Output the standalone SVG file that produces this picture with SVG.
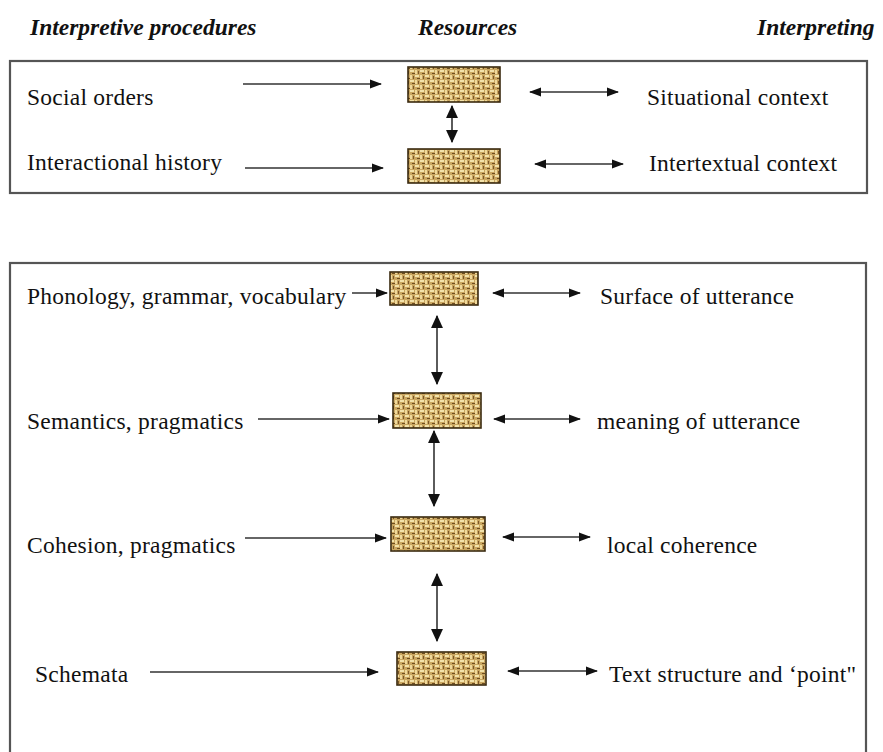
<svg xmlns="http://www.w3.org/2000/svg" width="883" height="752" viewBox="0 0 883 752">
<defs>
<style>
text{font-family:"Liberation Serif","Times New Roman",serif;font-size:23.5px;fill:#111;letter-spacing:0.25px;}
.hd{font-weight:bold;font-style:italic;font-size:23.5px;letter-spacing:0;}
.frame{fill:#fff;stroke:#555;stroke-width:2.2;}
.res{fill:url(#weave);stroke:#3a2a10;stroke-width:1.6;}
.ln{stroke:#333;stroke-width:1.6;fill:none;}
</style>
<pattern id="weave" patternUnits="userSpaceOnUse" width="10" height="10">
<rect width="10" height="10" fill="#c9a660"/>
<rect x="0" y="0" width="4" height="2" fill="#f3e2aa"/>
<rect x="5" y="0" width="2" height="4" fill="#efd99c"/>
<rect x="5" y="5" width="4" height="2" fill="#f3e2aa"/>
<rect x="0" y="5" width="2" height="4" fill="#efd99c"/>
<rect x="2" y="3" width="3" height="1" fill="#6e4c1f"/>
<rect x="8" y="1" width="1" height="3" fill="#7a5526"/>
<rect x="7" y="8" width="3" height="1" fill="#6e4c1f"/>
<rect x="3" y="6" width="1" height="3" fill="#7a5526"/>
</pattern>
<marker id="ah" viewBox="0 0 12 10" refX="11" refY="5" markerWidth="12" markerHeight="10" markerUnits="userSpaceOnUse" orient="auto-start-reverse">
<path d="M0 0.5L12 5L0 9.5z" fill="#111"/>
</marker>
<marker id="ahb" viewBox="0 0 12 12" refX="11" refY="6" markerWidth="13" markerHeight="13" markerUnits="userSpaceOnUse" orient="auto-start-reverse">
<path d="M0 0.5L12 6L0 11.5z" fill="#111"/>
</marker>
</defs>
<rect width="883" height="752" fill="#fff"/>
<g id="headers">
<text class="hd" x="30" y="35">Interpretive procedures</text>
<text class="hd" x="418" y="35">Resources</text>
<text class="hd" x="757" y="35">Interpreting</text>
</g>
<rect id="frame-top" class="frame" x="10" y="61" width="857" height="132"/>
<rect id="frame-bottom" class="frame" x="10" y="263" width="856" height="500"/>

<g id="n-social-orders"><text x="27" y="105">Social orders</text></g>
<g id="n-interactional-history"><text x="27" y="170">Interactional history</text></g>
<g id="n-res1"><rect class="res" x="408" y="67" width="92" height="35"/></g>
<g id="n-res2"><rect class="res" x="408" y="149" width="92" height="34"/></g>
<g id="n-situational"><text x="647" y="105">Situational context</text></g>
<g id="n-intertextual"><text x="649" y="171">Intertextual context</text></g>

<g id="n-phonology"><text x="27" y="304">Phonology, grammar, vocabulary</text></g>
<g id="n-semantics"><text x="27" y="429">Semantics, pragmatics</text></g>
<g id="n-cohesion"><text x="27" y="553">Cohesion, pragmatics</text></g>
<g id="n-schemata"><text x="35" y="682">Schemata</text></g>
<g id="n-res3"><rect class="res" x="390" y="272" width="88" height="33"/></g>
<g id="n-res4"><rect class="res" x="393" y="393" width="88" height="35"/></g>
<g id="n-res5"><rect class="res" x="391" y="517" width="94" height="34"/></g>
<g id="n-res6"><rect class="res" x="397" y="652" width="89" height="33"/></g>
<g id="n-surface"><text x="600" y="304">Surface of utterance</text></g>
<g id="n-meaning"><text x="597" y="429">meaning of utterance</text></g>
<g id="n-local"><text x="607" y="553">local coherence</text></g>
<g id="n-text-structure"><text x="609" y="682">Text structure and ‘point"</text></g>

<g id="connectors">
<line class="ln" x1="243" y1="84" x2="381" y2="84" marker-end="url(#ah)"/>
<line class="ln" x1="245" y1="168" x2="383" y2="168" marker-end="url(#ah)"/>
<line class="ln" x1="452" y1="106" x2="452" y2="142" stroke-width="2" marker-start="url(#ahb)" marker-end="url(#ahb)"/>
<line class="ln" x1="530" y1="92" x2="618" y2="92" marker-start="url(#ah)" marker-end="url(#ah)"/>
<line class="ln" x1="535" y1="164" x2="623" y2="164" marker-start="url(#ah)" marker-end="url(#ah)"/>

<line class="ln" x1="352" y1="293" x2="387" y2="293" marker-end="url(#ah)"/>
<line class="ln" x1="258" y1="419" x2="389" y2="419" marker-end="url(#ah)"/>
<line class="ln" x1="245" y1="538" x2="386" y2="538" marker-end="url(#ah)"/>
<line class="ln" x1="150" y1="672" x2="378" y2="672" marker-end="url(#ah)"/>

<line class="ln" x1="437" y1="316" x2="437" y2="384" marker-start="url(#ahb)" marker-end="url(#ahb)"/>
<line class="ln" x1="434" y1="431" x2="434" y2="506" marker-start="url(#ahb)" marker-end="url(#ahb)"/>
<line class="ln" x1="437" y1="574" x2="437" y2="641" marker-start="url(#ahb)" marker-end="url(#ahb)"/>

<line class="ln" x1="493" y1="293" x2="580" y2="293" marker-start="url(#ah)" marker-end="url(#ah)"/>
<line class="ln" x1="494" y1="419" x2="580" y2="419" marker-start="url(#ah)" marker-end="url(#ah)"/>
<line class="ln" x1="503" y1="537" x2="590" y2="537" marker-start="url(#ah)" marker-end="url(#ah)"/>
<line class="ln" x1="508" y1="671" x2="597" y2="671" marker-start="url(#ah)" marker-end="url(#ah)"/>
</g>
</svg>
